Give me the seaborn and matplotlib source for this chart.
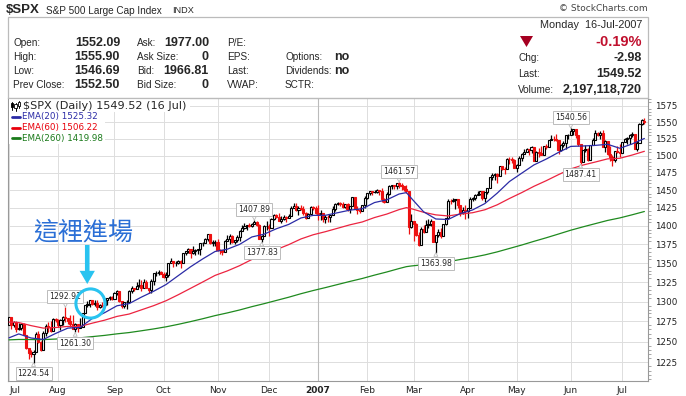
import numpy as np
import pandas as pd
import matplotlib
matplotlib.use('Agg')
import matplotlib.pyplot as plt
import seaborn as sns
from matplotlib.patches import Rectangle, Polygon
from matplotlib.lines import Line2D
from matplotlib.ticker import FixedLocator, NullFormatter, FuncFormatter

# trading calendar: weekdays 3 Jul 2006 .. 16 Jul 2007 minus exchange closures
first_day = '2006-07-03'
last_day = '2007-07-16'
closed_days = ['2006-07-04', '2006-09-04', '2006-11-23', '2006-12-25', '2007-01-01',
               '2007-01-02', '2007-01-15', '2007-02-19', '2007-04-06', '2007-05-28',
               '2007-07-04']

prior_close = 1270.20  # close of 30 Jun 2006

closes = [
    1280.19, 1270.91, 1274.08, 1265.48, 1267.34, 1272.43, 1258.60, 1242.28, 1236.20, 1234.49,
    1236.86, 1259.81, 1249.13, 1240.29, 1260.91, 1268.88, 1268.40, 1263.20, 1278.55, 1276.66,
    1270.92, 1277.41, 1280.27, 1279.36, 1275.77, 1271.48, 1265.95, 1271.81, 1266.74, 1268.21,
    1285.58, 1295.43, 1297.48, 1302.30, 1297.52, 1298.82, 1292.99, 1296.06, 1295.09, 1301.78,
    1304.28, 1305.37, 1303.82, 1311.01, 1313.25, 1300.26, 1294.02, 1298.92, 1299.54, 1313.00,
    1318.07, 1316.28, 1319.66, 1321.18, 1317.64, 1325.18, 1318.03, 1314.78, 1326.37, 1336.35,
    1336.59, 1338.88, 1335.85, 1331.32, 1334.11, 1350.20, 1353.22, 1349.59, 1350.66, 1353.42,
    1349.95, 1362.83, 1365.62, 1369.06, 1364.05, 1365.80, 1366.96, 1368.60, 1377.02, 1377.38,
    1382.22, 1389.08, 1377.34, 1377.93, 1377.94, 1367.81, 1367.34, 1364.30, 1379.78, 1382.84,
    1385.72, 1378.33, 1380.90, 1384.42, 1393.22, 1396.57, 1399.76, 1401.20, 1400.50, 1402.81,
    1406.09, 1400.95, 1381.96, 1386.72, 1399.48, 1400.63, 1396.71, 1409.12, 1414.76, 1412.90,
    1407.29, 1409.84, 1413.04, 1411.56, 1413.21, 1425.49, 1427.09, 1422.48, 1425.55, 1423.53,
    1418.30, 1410.76, 1416.90, 1426.84, 1424.73, 1418.30, 1416.60, 1418.34, 1409.71, 1412.84,
    1412.11, 1414.85, 1423.82, 1430.73, 1431.90, 1430.62, 1426.37, 1430.50, 1422.95, 1427.99,
    1440.13, 1423.90, 1422.18, 1420.62, 1428.82, 1438.24, 1445.94, 1448.39, 1446.99, 1448.00,
    1450.02, 1448.31, 1438.06, 1433.37, 1444.26, 1455.30, 1456.81, 1455.54, 1459.68, 1457.63,
    1456.38, 1451.19, 1449.37, 1399.04, 1406.82, 1403.17, 1387.17, 1374.12, 1395.41, 1391.97,
    1401.89, 1402.84, 1406.60, 1377.95, 1387.17, 1392.28, 1386.95, 1402.06, 1410.94, 1435.04,
    1434.54, 1436.11, 1437.50, 1428.61, 1417.23, 1422.53, 1420.86, 1424.55, 1437.77, 1439.37,
    1443.76, 1444.61, 1448.39, 1438.87, 1447.80, 1452.85, 1468.47, 1471.48, 1472.50, 1470.73,
    1484.35, 1480.93, 1480.41, 1495.42, 1494.25, 1494.07, 1482.37, 1486.30, 1495.92, 1502.39,
    1505.62, 1509.48, 1507.72, 1512.58, 1491.47, 1505.85, 1503.15, 1501.19, 1514.14, 1512.75,
    1522.75, 1525.10, 1524.12, 1522.28, 1507.51, 1515.73, 1518.11, 1530.23, 1530.62, 1536.34,
    1539.18, 1530.95, 1517.38, 1490.72, 1507.67, 1509.12, 1493.00, 1515.67, 1522.97, 1532.91,
    1531.05, 1533.70, 1512.84, 1522.19, 1502.56, 1497.74, 1492.89, 1506.34, 1505.71, 1503.35,
    1519.43, 1524.87, 1525.40, 1530.44, 1531.85, 1510.12, 1518.76, 1547.70, 1552.50, 1549.52,
]

opens = [
    1270.06, 1280.19, 1270.91, 1274.08, 1265.48, 1267.34, 1272.43, 1258.60, 1242.28, 1236.20,
    1234.49, 1236.86, 1259.81, 1249.13, 1240.29, 1260.91, 1268.88, 1268.40, 1263.20, 1278.55,
    1276.66, 1270.92, 1277.41, 1280.27, 1279.36, 1275.77, 1271.48, 1265.95, 1271.81, 1266.74,
    1268.21, 1285.58, 1295.43, 1297.48, 1302.30, 1297.52, 1298.82, 1292.99, 1296.06, 1295.09,
    1301.78, 1304.28, 1305.37, 1303.82, 1311.01, 1313.25, 1300.26, 1294.02, 1298.92, 1299.54,
    1313.00, 1318.07, 1316.28, 1319.66, 1321.18, 1317.64, 1325.18, 1318.03, 1314.78, 1326.37,
    1336.35, 1336.59, 1338.88, 1335.85, 1331.32, 1334.11, 1350.20, 1353.22, 1349.59, 1350.66,
    1353.42, 1349.95, 1362.83, 1365.62, 1369.06, 1364.05, 1365.80, 1366.96, 1368.60, 1377.02,
    1377.38, 1382.22, 1389.08, 1377.34, 1377.93, 1377.94, 1367.81, 1367.34, 1364.30, 1379.78,
    1382.84, 1385.72, 1378.33, 1380.90, 1384.42, 1393.22, 1396.57, 1399.76, 1401.20, 1400.50,
    1402.81, 1406.09, 1400.95, 1381.96, 1386.72, 1399.48, 1400.63, 1396.71, 1409.12, 1414.76,
    1412.90, 1407.29, 1409.84, 1413.04, 1411.56, 1413.21, 1425.49, 1427.09, 1422.48, 1425.55,
    1423.53, 1418.30, 1410.76, 1416.90, 1426.84, 1424.73, 1418.30, 1416.60, 1418.34, 1409.71,
    1412.84, 1412.11, 1414.85, 1423.82, 1430.73, 1431.90, 1430.62, 1426.37, 1430.50, 1422.95,
    1427.99, 1440.13, 1423.90, 1422.18, 1420.62, 1428.82, 1438.24, 1445.94, 1448.39, 1446.99,
    1448.00, 1450.02, 1448.31, 1438.06, 1433.37, 1444.26, 1455.30, 1456.81, 1455.54, 1459.68,
    1457.63, 1456.38, 1451.19, 1449.37, 1399.04, 1406.82, 1403.17, 1387.17, 1374.12, 1395.41,
    1391.97, 1401.89, 1402.84, 1406.60, 1377.95, 1387.17, 1392.28, 1386.95, 1402.06, 1410.94,
    1435.04, 1434.54, 1436.11, 1437.50, 1428.61, 1417.23, 1422.53, 1420.86, 1424.55, 1437.77,
    1439.37, 1443.76, 1444.61, 1448.39, 1438.87, 1447.80, 1452.85, 1468.47, 1471.48, 1472.50,
    1470.73, 1484.35, 1480.93, 1480.41, 1495.42, 1494.25, 1494.07, 1482.37, 1486.30, 1495.92,
    1502.39, 1505.62, 1509.48, 1507.72, 1512.58, 1491.47, 1505.85, 1503.15, 1501.19, 1514.14,
    1512.75, 1522.75, 1525.10, 1524.12, 1522.28, 1507.51, 1515.73, 1518.11, 1530.23, 1530.62,
    1536.34, 1539.18, 1530.95, 1517.38, 1490.72, 1507.67, 1509.12, 1493.00, 1515.67, 1522.97,
    1532.91, 1531.05, 1533.70, 1512.84, 1522.19, 1502.56, 1497.74, 1492.89, 1506.34, 1505.71,
    1503.35, 1519.43, 1524.87, 1525.40, 1530.44, 1531.85, 1510.12, 1518.76, 1547.70, 1552.09,
]

highs = [
    1280.2, 1280.2, 1275.3, 1275.4, 1273.5, 1273.3, 1273.3, 1258.6, 1242.7, 1240.1,
    1240.1, 1261.8, 1262.6, 1250.9, 1262.6, 1272.4, 1273.9, 1276.0, 1279.3, 1278.7,
    1278.2, 1277.6, 1281.3, 1292.91, 1279.4, 1282.8, 1283.4, 1272.6, 1271.9, 1278.9,
    1286.2, 1295.8, 1300.8, 1302.3, 1302.3, 1302.5, 1301.6, 1297.2, 1298.9, 1305.0,
    1305.0, 1306.7, 1306.7, 1312.0, 1314.7, 1313.3, 1301.0, 1300.1, 1302.4, 1314.3,
    1319.9, 1318.1, 1324.7, 1328.5, 1328.3, 1328.5, 1328.4, 1318.1, 1329.4, 1336.6,
    1340.1, 1340.4, 1339.1, 1338.3, 1338.3, 1350.2, 1357.4, 1353.3, 1352.7, 1354.2,
    1353.6, 1363.0, 1366.6, 1369.8, 1369.1, 1372.9, 1368.1, 1368.9, 1377.4, 1377.8,
    1383.6, 1389.5, 1389.1, 1381.2, 1381.2, 1381.9, 1368.4, 1367.4, 1381.4, 1388.2,
    1388.9, 1388.1, 1381.4, 1387.6, 1394.5, 1401.4, 1403.8, 1401.5, 1404.4, 1403.8,
    1407.89, 1406.3, 1402.5, 1387.6, 1401.5, 1406.3, 1402.5, 1411.2, 1415.9, 1415.9,
    1418.3, 1414.1, 1415.6, 1413.8, 1416.6, 1427.2, 1431.6, 1431.8, 1428.3, 1429.0,
    1427.0, 1418.8, 1417.9, 1427.3, 1427.0, 1427.0, 1429.4, 1421.8, 1418.4, 1415.0,
    1415.6, 1415.0, 1427.0, 1431.4, 1433.9, 1433.3, 1432.9, 1430.6, 1431.4, 1428.0,
    1440.7, 1440.7, 1427.3, 1426.9, 1429.1, 1441.6, 1446.6, 1449.3, 1449.3, 1450.5,
    1451.5, 1450.1, 1452.9, 1439.1, 1447.4, 1457.7, 1456.8, 1456.9, 1460.5, 1461.57,
    1460.0, 1456.4, 1456.9, 1449.4, 1415.9, 1406.9, 1403.7, 1391.9, 1397.9, 1401.2,
    1407.9, 1410.2, 1409.3, 1406.7, 1388.1, 1395.7, 1397.5, 1403.2, 1411.5, 1437.7,
    1437.7, 1438.9, 1437.7, 1437.6, 1428.7, 1426.2, 1429.2, 1425.0, 1440.6, 1440.2,
    1444.9, 1448.1, 1448.7, 1448.4, 1448.0, 1453.1, 1468.6, 1474.4, 1474.4, 1474.3,
    1484.7, 1484.4, 1483.8, 1496.6, 1498.0, 1497.3, 1495.3, 1487.3, 1499.1, 1503.3,
    1510.3, 1511.8, 1509.5, 1513.8, 1512.6, 1506.2, 1510.9, 1514.8, 1514.8, 1517.1,
    1522.8, 1529.9, 1529.0, 1532.4, 1523.3, 1517.1, 1521.8, 1530.5, 1532.4, 1540.56,
    1539.4, 1539.2, 1531.0, 1517.4, 1507.8, 1515.0, 1511.3, 1515.7, 1526.5, 1538.7,
    1535.4, 1535.9, 1537.3, 1522.9, 1522.2, 1514.3, 1500.3, 1506.8, 1514.8, 1517.5,
    1519.5, 1526.6, 1526.8, 1531.9, 1534.3, 1531.9, 1522.0, 1547.9, 1555.1, 1555.90,
]

lows = [
    1270.0, 1265.9, 1268.2, 1261.8, 1263.9, 1264.9, 1257.6, 1241.4, 1228.4, 1231.5,
    1224.54, 1236.8, 1248.9, 1238.7, 1240.2, 1257.3, 1261.9, 1261.8, 1263.1, 1274.3,
    1267.7, 1264.9, 1271.1, 1273.8, 1271.3, 1268.4, 1265.2, 1261.30, 1262.1, 1266.6,
    1268.1, 1285.5, 1292.7, 1293.6, 1295.5, 1294.7, 1289.8, 1291.4, 1292.7, 1295.0,
    1295.3, 1302.4, 1302.0, 1303.7, 1307.9, 1299.3, 1292.1, 1292.0, 1290.9, 1299.4,
    1311.1, 1313.3, 1316.2, 1318.9, 1313.6, 1317.5, 1316.9, 1310.6, 1311.2, 1321.0,
    1333.5, 1333.9, 1335.0, 1330.3, 1327.1, 1331.5, 1350.1, 1344.2, 1346.6, 1348.6,
    1343.2, 1349.9, 1360.5, 1364.0, 1356.9, 1362.5, 1360.6, 1362.1, 1360.5, 1372.4,
    1377.0, 1379.3, 1375.9, 1372.2, 1372.2, 1366.6, 1362.2, 1360.3, 1364.2, 1379.7,
    1375.9, 1377.1, 1375.6, 1378.8, 1379.1, 1393.1, 1396.5, 1394.6, 1397.9, 1399.0,
    1402.3, 1399.9, 1381.8, 1377.83, 1386.6, 1393.8, 1385.9, 1396.6, 1408.6, 1411.1,
    1406.2, 1403.7, 1408.6, 1404.8, 1411.3, 1413.1, 1425.4, 1420.7, 1414.9, 1421.7,
    1415.5, 1410.2, 1410.5, 1416.8, 1422.3, 1416.8, 1407.9, 1408.4, 1405.8, 1404.0,
    1405.4, 1405.4, 1414.8, 1420.4, 1428.6, 1428.0, 1424.2, 1424.4, 1420.4, 1417.5,
    1427.9, 1422.8, 1416.0, 1418.5, 1420.5, 1424.8, 1437.9, 1443.2, 1442.9, 1445.5,
    1445.6, 1442.9, 1433.4, 1431.4, 1433.3, 1443.6, 1451.4, 1451.8, 1451.1, 1452.6,
    1450.5, 1448.4, 1445.5, 1389.4, 1396.7, 1379.0, 1386.9, 1373.4, 1374.0, 1390.6,
    1391.9, 1397.3, 1400.4, 1377.7, 1363.98, 1385.2, 1383.6, 1386.9, 1400.7, 1409.7,
    1429.9, 1433.2, 1423.3, 1425.5, 1414.1, 1417.1, 1408.9, 1410.6, 1424.4, 1435.1,
    1436.7, 1443.3, 1443.0, 1436.2, 1433.9, 1444.5, 1452.8, 1464.0, 1464.7, 1460.3,
    1470.6, 1478.9, 1473.7, 1480.3, 1488.3, 1488.7, 1482.0, 1476.7, 1486.2, 1491.6,
    1502.3, 1505.3, 1500.7, 1503.0, 1491.3, 1491.3, 1498.3, 1500.4, 1501.1, 1509.6,
    1512.7, 1522.6, 1522.1, 1521.9, 1501.9, 1507.4, 1513.0, 1510.1, 1524.9, 1530.5,
    1530.6, 1525.6, 1514.8, 1487.41, 1490.6, 1505.0, 1492.1, 1492.9, 1515.0, 1522.9,
    1529.3, 1525.1, 1512.3, 1504.8, 1500.7, 1492.7, 1484.2, 1490.5, 1503.4, 1498.0,
    1503.3, 1519.3, 1517.7, 1517.6, 1527.5, 1510.0, 1506.3, 1518.7, 1544.9, 1546.69,
]

# moving averages (trading-day index -> value)
ema_days = [0, 4, 9, 14, 19, 24, 29, 34, 39, 44, 49, 54, 59, 64, 69, 74, 79, 84, 89, 94,
            99, 104, 109, 114, 119, 124, 129, 134, 139, 144, 149, 154, 159, 162, 164, 169,
            174, 179, 184, 189, 194, 199, 204, 209, 214, 219, 224, 229, 234, 239, 244, 249,
            254, 259]
ema20 = [1254.7, 1259.5, 1254.5, 1252.7, 1260.1, 1266.7, 1267.5, 1278.8, 1286.0, 1294.7,
         1297.5, 1305.8, 1313.3, 1321.9, 1333.5, 1345.1, 1355.6, 1365.4, 1368.5, 1375.0,
         1385.0, 1388.8, 1396.2, 1402.1, 1411.0, 1414.6, 1414.7, 1418.3, 1421.9, 1423.8,
         1432.5, 1436.3, 1444.5, 1446.5, 1438.6, 1419.6, 1409.6, 1408.9, 1417.2, 1422.2,
         1431.1, 1445.7, 1462.3, 1474.3, 1486.3, 1494.8, 1504.6, 1513.5, 1514.1, 1515.0,
         1516.6, 1510.7, 1517.1, 1525.32]
ema60 = [1274.2, 1273.6, 1269.8, 1266.7, 1267.4, 1268.8, 1268.8, 1272.9, 1276.6, 1281.3,
         1284.3, 1289.6, 1294.9, 1301.1, 1308.8, 1317.0, 1325.3, 1333.8, 1339.7, 1346.6,
         1354.8, 1361.0, 1368.0, 1374.6, 1382.3, 1388.0, 1392.2, 1396.9, 1401.6, 1405.5,
         1411.6, 1416.4, 1422.6, 1425.4, 1423.9, 1418.9, 1415.3, 1413.8, 1416.4, 1418.3,
         1422.4, 1429.3, 1438.2, 1446.5, 1455.5, 1463.5, 1472.2, 1480.5, 1486.1, 1490.5,
         1495.1, 1496.0, 1500.7, 1506.22]
ema260 = [1252.2, 1252.7, 1252.6, 1252.5, 1253.2, 1254.1, 1254.7, 1256.2, 1257.7, 1259.6,
          1261.2, 1263.4, 1265.7, 1268.3, 1271.4, 1274.8, 1278.4, 1282.3, 1285.7, 1289.4,
          1293.6, 1297.4, 1301.5, 1305.6, 1310.1, 1314.2, 1318.0, 1322.0, 1326.0, 1329.8,
          1334.2, 1338.3, 1342.8, 1345.3, 1346.2, 1347.9, 1349.7, 1351.8, 1354.8, 1357.6,
          1360.9, 1364.9, 1369.5, 1374.1, 1379.1, 1383.9, 1389.0, 1394.2, 1398.8, 1403.2,
          1407.6, 1411.1, 1415.4, 1419.98]

# swing points that carry a price tag
swing_days = [10, 23, 27, 100, 103, 159, 174, 229, 233]
swing_kind = ['low', 'high', 'low', 'high', 'low', 'high', 'low', 'high', 'low']

# quote box at the top
quote_left_labels = ['Open:', 'High:', 'Low:', 'Prev Close:']
quote_left_values = ['1552.09', '1555.90', '1546.69', '1552.50']
quote_ask_labels = ['Ask:', 'Ask Size:', 'Bid:', 'Bid Size:']
quote_ask_values = ['1977.00', '0', '1966.81', '0']
quote_misc_labels = ['P/E:', 'EPS:', 'Last:', 'VWAP:']
quote_flag_labels = ['', 'Options:', 'Dividends:', 'SCTR:']
quote_flag_values = ['', 'no', 'no', '']
quote_right_labels = ['Chg:', 'Last:', 'Volume:']
quote_right_values = ['-2.98', '1549.52', '2,197,118,720']

W, H = 686, 396
RED = '#EE1111'
CYAN = '#29C3F0'
C20, C60, C260 = '#2B2BA6', '#EC2440', '#1F8A1F'
HDR_FONT = 'Liberation Sans'

sns.set_style('white')
plt.rcParams['font.family'] = ['DejaVu Sans']

dates = pd.bdate_range(first_day, last_day)
dates = dates[~dates.isin(pd.to_datetime(closed_days))]
df = pd.DataFrame({'day': np.arange(len(dates)), 'open': opens, 'high': highs,
                   'low': lows, 'close': closes})
df['prev'] = df['close'].shift(1).fillna(prior_close)
edge = np.where(df['close'] >= df['prev'], 'black', RED)
fill = np.where(df['close'] > df['open'], 'white', edge)
body_lo = np.minimum(df['open'], df['close'])
body_h = np.maximum((df['close'] - df['open']).abs(), 0.4)

fig = plt.figure(figsize=(W / 100, H / 100), dpi=100)
ax = fig.add_axes([8 / W, 1 - 380.7 / H, 640.3 / W, 282.4 / H])
ax.set_yscale('log')

ax.vlines(df['day'], df['low'], df['high'], colors=edge, lw=0.9, zorder=2)
ax.bar(df['day'], body_h, bottom=body_lo, width=0.85, color=fill,
       edgecolor=edge, linewidth=0.8, zorder=3)

ema = pd.DataFrame({'day': ema_days, 'e20': ema20, 'e60': ema60, 'e260': ema260})
for col, colr in [('e260', C260), ('e60', C60), ('e20', C20)]:
    sns.lineplot(data=ema, x='day', y=col, ax=ax, color=colr, lw=0.9, zorder=4)
ax.set_xlabel('')
ax.set_ylabel('')

ax.set_xlim(-0.4, 260.6)
ax.set_ylim(1203.1, 1586.5)

# axes: right price scale, month labels
ax.yaxis.set_ticks_position('right')
ax.yaxis.set_major_locator(FixedLocator(list(range(1225, 1600, 25))))
ax.yaxis.set_major_formatter(FuncFormatter(lambda v, p: f'{v:.0f}'))
ax.yaxis.set_minor_locator(FixedLocator(list(range(1205, 1590, 5))))
ax.yaxis.set_minor_formatter(NullFormatter())
ax.tick_params(axis='y', which='major', length=0, pad=5, labelsize=6.3, labelcolor='#222222')
ax.tick_params(axis='y', which='minor', length=2, width=0.6, color='#999999')

month = dates.to_period('M')
starts = np.flatnonzero(np.r_[True, month[1:] != month[:-1]])
mlabels = [d.strftime('%b') if d.month != 1 else str(d.year) for d in dates[starts]]
ax.set_xticks(starts)
ax.set_xticklabels(mlabels)
ax.tick_params(axis='x', length=0, pad=3.5, labelsize=6.5, labelcolor='#222222')
for t in ax.get_xticklabels():
    if t.get_text() == '2007':
        t.set_fontweight('bold')
ax.get_xticklabels()[0].set_ha('left')

ax.grid(True, which='major', color='#DDDDDD', lw=0.7)
ax.set_axisbelow(True)
for s, d in zip(mlabels, starts):
    if s == '2007':
        ax.axvline(d, color='#BBBBBB', lw=0.8, zorder=1)
for sp in ax.spines.values():
    sp.set_color('#999999')
    sp.set_linewidth(0.8)

# price tags at swing points
for d, kind in zip(swing_days, swing_kind):
    v = highs[d] if kind == 'high' else lows[d]
    off = 7.6 if kind == 'high' else -7.6
    ax.annotate(f'{v:.2f}', xy=(d, v), xytext=(0, off), textcoords='offset points',
                ha='center', va='center', fontsize=5.6, zorder=6,
                bbox=dict(boxstyle='square,pad=0.25', fc='white', ec='#BBBBBB', lw=0.7),
                arrowprops=dict(arrowstyle='wedge,tail_width=0.5', fc='white', ec='#BBBBBB',
                                lw=0.6, shrinkA=0, shrinkB=0))

# hand-drawn note
ax.text(30.2, 1391.7, '這裡進場', ha='center', va='center', fontsize=18, color='#2B6FD6',
        family=['Noto Sans CJK TC', 'DejaVu Sans'], zorder=7)
ax.annotate('', xy=(31.9, 1322.6), xytext=(31.9, 1374.2),
            arrowprops=dict(arrowstyle='simple,head_length=0.95,head_width=1.1,tail_width=0.33',
                            fc=CYAN, ec=CYAN, lw=0, shrinkA=0, shrinkB=0, mutation_scale=10))
ax.plot([33], [1298.5], marker='o', ms=21, mfc='none', mec=CYAN, mew=2.2, zorder=7)


def fx(x, y):
    return x / W, 1 - y / H


def ftxt(x, y, s, **kw):
    kw.setdefault('va', 'center')
    kw.setdefault('family', HDR_FONT)
    fig.text(*fx(x, y), s, **kw)


# legend block inside the chart
fig.add_artist(Rectangle(fx(8.8, 111.5), 181 / W, 12.5 / H, transform=fig.transFigure,
                         fc='white', ec='none', zorder=1))
fig.add_artist(Rectangle(fx(8.8, 144), 96 / W, 32.5 / H, transform=fig.transFigure,
                         fc='white', ec='none', zorder=1))
for xw, y0, y1, b0, b1, hollow in [(12, 101.5, 109.5, 103, 107, False),
                                   (15.5, 103, 110.5, 104, 108, True),
                                   (19, 100.8, 108, 102, 106, True)]:
    fig.add_artist(Line2D([xw / W, xw / W], [1 - y0 / H, 1 - y1 / H], transform=fig.transFigure,
                          color='black', lw=0.7, zorder=2))
    fig.add_artist(Rectangle(fx(xw - 1.2, b1), 2.4 / W, (b1 - b0) / H, transform=fig.transFigure,
                             fc='white' if hollow else 'black', ec='black', lw=0.6, zorder=2))
ftxt(23, 105.7, '\\$SPX (Daily) 1549.52 (16 Jul)', fontsize=8.1, family='DejaVu Sans')
for y, txt, colr in [(116.7, 'EMA(20) 1525.32', C20), (127.7, 'EMA(60) 1506.22', '#E8000B'),
                     (138.3, 'EMA(260) 1419.98', '#1A7A1A')]:
    fig.add_artist(Line2D([11.5 / W, 20 / W], [1 - y / H, 1 - y / H], transform=fig.transFigure,
                          color=colr, lw=2, zorder=2))
    ftxt(21.5, y, txt, fontsize=6.3, color=colr, family='DejaVu Sans')

# header
ftxt(6, 10, '\\$SPX', fontsize=9.5, weight='bold')
ftxt(45.5, 10.5, 'S&P 500 Large Cap Index', fontsize=7.2)
ftxt(172, 10.5, 'INDX', fontsize=6.6)
ftxt(648, 8.5, '© StockCharts.com', ha='right', fontsize=6.5, color='#444444',
     family='DejaVu Sans')
fig.add_artist(Rectangle(fx(8, 98.3), 640.3 / W, 81 / H, transform=fig.transFigure,
                         fill=False, ec='#BBBBBB', lw=0.9, zorder=1))

rows = [43, 57, 71, 85]
for y, a, b, c, d, e, f, g in zip(rows, quote_left_labels, quote_left_values, quote_ask_labels,
                                  quote_ask_values, quote_misc_labels, quote_flag_labels,
                                  quote_flag_values):
    ftxt(13.3, y, a, fontsize=7.2)
    ftxt(120, y, b, fontsize=9, weight='bold', ha='right')
    ftxt(136.7, y, c, fontsize=7.2)
    ftxt(209, y, d, fontsize=9, weight='bold', ha='right')
    ftxt(226.7, y, e, fontsize=7.2)
    ftxt(285, y, f, fontsize=7.2)
    ftxt(334, y, g, fontsize=9, weight='bold')

ftxt(642, 25, 'Monday  16-Jul-2007', ha='right', fontsize=7.8)
ftxt(642, 42.5, '-0.19%', ha='right', fontsize=10.5, weight='bold', color='#C0102E')
fig.add_artist(Polygon([fx(520, 36), fx(533, 36), fx(526.5, 47)], closed=True,
                       transform=fig.transFigure, fc='#A50021', ec='none', zorder=2))
for y, a, b in zip([58.3, 73.7, 90], quote_right_labels, quote_right_values):
    ftxt(518.3, y, a, fontsize=7.2)
    ftxt(642, y, b, fontsize=9, weight='bold', ha='right')

fig.savefig('out.png', dpi=100)
